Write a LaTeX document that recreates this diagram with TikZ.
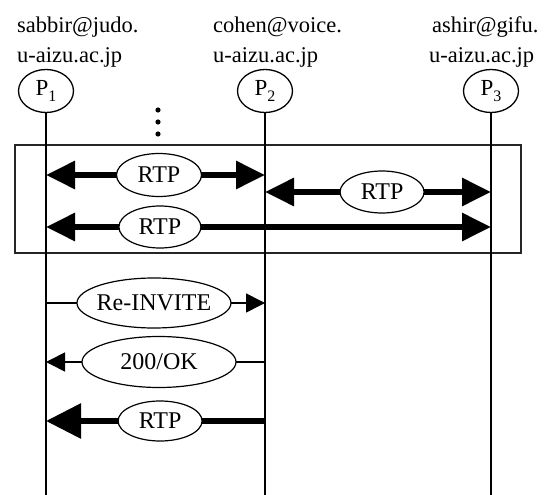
\documentclass[tikz,border=0pt]{standalone}
\usepackage{fontspec}
\setmainfont{Liberation Serif}
\usetikzlibrary{shapes.geometric,arrows.meta}
\begin{document}
\begin{tikzpicture}[x=1pt,y=-1pt,
  every node/.style={font=\fontsize{24}{28}\selectfont},
  party/.style={ellipse,draw,line width=1.3pt,minimum width=55pt,minimum height=43pt,inner sep=0pt},
  addr/.style={anchor=base west,inner sep=0pt,font=\fontsize{22.5}{26}\selectfont},
  life/.style={line width=1.6pt},
  lab/.style={ellipse,draw,fill=white,line width=1.2pt,inner sep=0pt},
  rtpboth/.style={line width=6pt,{Triangle[length=29pt,width=27pt]}-{Triangle[length=29pt,width=27pt]}},
  rtpone/.style={line width=6pt,-{Triangle[length=35pt,width=34pt]}},
  sigone/.style={line width=1.6pt,-{Triangle[length=19pt,width=19pt]}}
]
\useasboundingbox (0,0) rectangle (555,495);

% addresses
\node[addr] (t1a) at (17,33) {sabbir@judo.};
\node[addr] (t1b) at (17,63) {u-aizu.ac.jp};
\node[addr] (t2a) at (213,33) {cohen@voice.};
\node[addr] (t2b) at (213,63) {u-aizu.ac.jp};
\node[addr] (t3a) at (432,33) {ashir@gifu.};
\node[addr] (t3b) at (429,63) {u-aizu.ac.jp};

% parties
\newcommand{\pname}[1]{\makebox[0pt]{\fontsize{23}{24}\selectfont P\raisebox{-6pt}{\fontsize{16}{16}\selectfont #1}}}
\node[party] (p1) at (46,91) {\pname{1}};
\node[party] (p2) at (265,91) {\pname{2}};
\node[party] (p3) at (491,91) {\pname{3}};

\coordinate (e1) at (46,495);
\coordinate (e2) at (265,495);
\coordinate (e3) at (491,495);

% box
\draw[line width=2.4pt,black!85] (15,145) rectangle (521,253);

% lifelines
\draw[life] (p1.south) -- (e1);
\draw[life] (p2.south) -- (e2);
\draw[life] (p3.south) -- (e3);

% dots
\fill (158,110) circle (2.6pt);
\fill (158,122) circle (2.6pt);
\fill (158,134) circle (2.6pt);

% message coordinates
\coordinate (a1) at (46,175);  \coordinate (b1) at (265,175);
\coordinate (b2) at (265,192); \coordinate (c2) at (491,192);
\coordinate (a3) at (46,227);  \coordinate (c3) at (491,227);
\coordinate (a4) at (46,303);  \coordinate (b4) at (265,303);
\coordinate (b5) at (265,362); \coordinate (a5) at (46,362);
\coordinate (b6) at (265,421); \coordinate (a6) at (46,421);

\draw[rtpboth] (a1) -- (b1) node[lab,pos=0.516,minimum width=85pt,minimum height=43pt] (r1) {\makebox[0pt]{RTP}};
\draw[rtpboth] (b2) -- (c2) node[lab,pos=0.518,minimum width=84pt,minimum height=42pt] (r2) {\makebox[0pt]{RTP}};
\draw[rtpboth] (a3) -- (c3) node[lab,pos=0.256,minimum width=82pt,minimum height=42pt] (r3) {\makebox[0pt]{RTP}};

\draw[sigone] (a4) -- (b4) node[lab,pos=0.493,minimum width=154pt,minimum height=50pt] (m1) {\makebox[0pt]{Re-INVITE}};
\draw[sigone] (b5) -- (a5) node[lab,pos=0.484,minimum width=154pt,minimum height=51pt] (m2) {\makebox[0pt]{200/OK}};
\draw[rtpone] (b6) -- (a6) node[lab,pos=0.479,minimum width=84pt,minimum height=40pt] (m3) {\makebox[0pt]{RTP}};
\end{tikzpicture}
\end{document}
